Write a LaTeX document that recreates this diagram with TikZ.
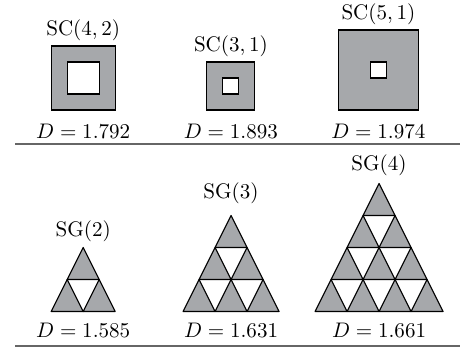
\documentclass[tikz,border=0pt]{standalone}
\usepackage{amsmath}
\usetikzlibrary{positioning}
\definecolor{fractalgray}{RGB}{166,168,171}
\tikzstyle{cell} = [draw,fill=fractalgray,line width=0.6pt]
\tikzstyle{hole} = [draw,fill=white,line width=0.6pt,inner sep=0pt]
\tikzstyle{figlabel} = [inner sep=1pt,font=\fontsize{11}{13}\selectfont]
\tikzstyle{rule} = [draw,black!60,line width=1pt]

\begin{document}
\begin{tikzpicture}[x=8.32pt,y=8.32pt]
    \useasboundingbox (0,0) rectangle (28.75,22);
    % carpets
    \node[cell, inner sep=0pt, minimum size=33.28pt] (sc42) at (5.2,17.125) {};
    \node[hole, minimum size=16.64pt] (sc42h) at (sc42) {};
    \node[cell, inner sep=0pt, minimum size=24.96pt] (sc31) at (14.43,16.625) {};
    \node[hole, minimum size=8.32pt] (sc31h) at (sc31) {};
    \node[cell, inner sep=0pt, minimum size=41.6pt] (sc51) at (23.65,17.625) {};
    \node[hole, minimum size=8.32pt] (sc51h) at (sc51) {};
    \node[figlabel, above=1pt of sc42] (sc42name) {$\mathrm{SC}(4,2)$};
    \node[figlabel, above=1pt of sc31] (sc31name) {$\mathrm{SC}(3,1)$};
    \node[figlabel, above=1pt of sc51] (sc51name) {$\mathrm{SC}(5,1)$};
    \node[figlabel, below=5.6pt of sc42] (sc42dim) {$D = 1.792$};
    \node[figlabel, below=5.6pt of sc31] (sc31dim) {$D = 1.893$};
    \node[figlabel, below=5.6pt of sc51] (sc51dim) {$D = 1.974$};
    % gaskets
    \foreach \n/\cx in {2/5.2, 3/14.44, 4/23.69} {
        \coordinate (sg\n top) at (\cx,2.53+2*\n);
        \coordinate (sg\n base) at (\cx,2.53);
        \pgfmathtruncatemacro\rows{\n-1}
        \foreach \r in {0,...,\rows} {
            \pgfmathtruncatemacro\last{\n-\r-1}
            \foreach \k in {0,...,\last}
                \filldraw[cell, line join=round, shift={(\cx-\n+\r+2*\k,2.53+2*\r)}]
                    (0,0) -- (2,0) -- (1,2) -- cycle;
        }
    }
    \node[figlabel, above=1.8pt of sg2top] (sg2name) {$\mathrm{SG}(2)$};
    \node[figlabel, above=4.9pt of sg3top] (sg3name) {$\mathrm{SG}(3)$};
    \node[figlabel, above=2.9pt of sg4top] (sg4name) {$\mathrm{SG}(4)$};
    \node[figlabel, below=4.7pt of sg2base] (sg2dim) {$D = 1.585$};
    \node[figlabel, below=4.7pt of sg3base] (sg3dim) {$D = 1.631$};
    \node[figlabel, below=4.7pt of sg4base] (sg4dim) {$D = 1.661$};
    % rules
    \draw[rule] (0.94,12.98) -- (28.75,12.98);
    \draw[rule] (0.94,0.39) -- (28.75,0.39);
\end{tikzpicture}
\end{document}
